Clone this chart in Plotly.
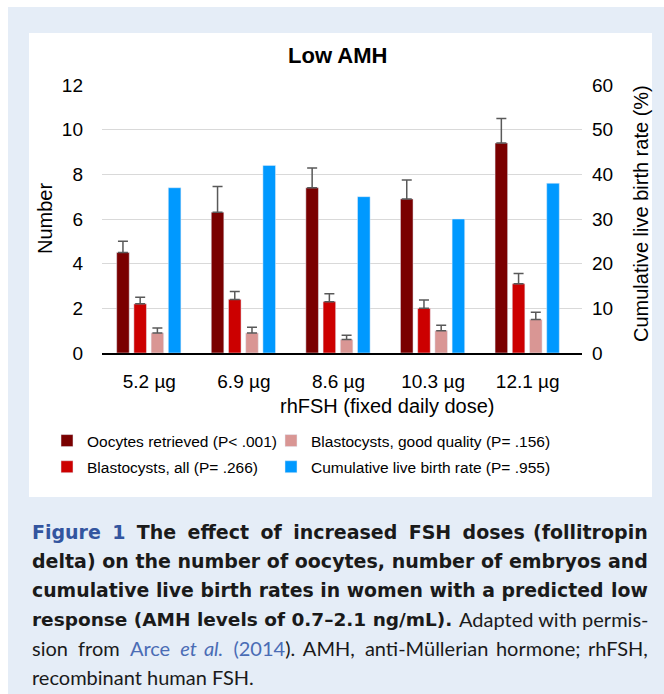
import plotly.graph_objects as go

# ---- data ----
doses = ["5.2 µg", "6.9 µg", "8.6 µg", "10.3 µg", "12.1 µg"]
oocytes = [4.5, 6.3, 7.4, 6.9, 9.4]
oocytes_err = [0.5, 1.15, 0.88, 0.85, 1.1]
blast_all = [2.2, 2.4, 2.3, 2.0, 3.1]
blast_all_err = [0.3, 0.35, 0.35, 0.37, 0.46]
blast_good = [0.9, 0.9, 0.6, 1.0, 1.5]
blast_good_err = [0.22, 0.25, 0.2, 0.24, 0.33]
clbr = [37, 42, 35, 30, 38]

series_names = [
    "Oocytes retrieved (P< .001)",
    "Blastocysts, all (P= .266)",
    "Blastocysts, good quality (P= .156)",
    "Cumulative live birth rate (P= .955)",
]
colors = ["#7a0000", "#cc0000", "#d99694", "#0099ff"]

# ---- geometry helpers (pixel -> paper) ----
W, H = 664, 694
ML, MR, MT, MB = 102, 82, 85, 341
PW, PH = W - ML - MR, H - MT - MB


def px(x):
    return (x - ML) / PW


def py(y):
    return (H - MB - y) / PH


FONT = "Liberation Sans, Arial, sans-serif"
REG = "Lato, 'Open Sans', sans-serif"
BOLD = "'DejaVu Sans', sans-serif"
SP = " \u2005"   # widened word space for justified caption lines
SPT = " \u2009"  # slightly widened word space
bw = 0.133
offs = [-0.345, -0.163, 0.019, 0.201]
err_style = dict(type="data", symmetric=False, arrayminus=[0] * 5,
                 color="#595959", thickness=1.5, width=5)

fig = go.Figure()
fig.add_trace(go.Bar(x=doses, y=oocytes, name=series_names[0], marker_color=colors[0],
                     width=bw, offset=offs[0], legend="legend", legendgroup="a",
                     error_y=dict(array=oocytes_err, **err_style)))
fig.add_trace(go.Bar(x=doses, y=blast_all, name=series_names[1], marker_color=colors[1],
                     width=bw, offset=offs[1], legend="legend", legendgroup="b",
                     error_y=dict(array=blast_all_err, **err_style)))
fig.add_trace(go.Bar(x=doses, y=blast_good, name=series_names[2], marker_color=colors[2],
                     width=bw, offset=offs[2], legend="legend2", legendgroup="c",
                     error_y=dict(array=blast_good_err, **err_style)))
fig.add_trace(go.Bar(x=doses, y=clbr, name=series_names[3], marker_color=colors[3],
                     width=bw, offset=offs[3], legend="legend2", legendgroup="d", yaxis="y2"))

shapes = [
    dict(type="rect", xref="paper", yref="paper", x0=px(8), x1=px(664), y0=py(694), y1=py(7),
         fillcolor="#e5edf7", line_width=0, layer="below"),
    dict(type="rect", xref="paper", yref="paper", x0=px(29), x1=px(652), y0=py(497), y1=py(33),
         fillcolor="white", line_width=0, layer="below"),
]

BLUE = "#33559f"
LBLUE = "#4a6cb5"
BLK = "#1a1a1a"
# caption: (left text, left font, left size, right text, right font, right size)
cap_parts = [
    (f"<b><span style='color:{BLUE}'>Figure{SP}1</span>{SP}The{SP}effect{SP}of{SP}increased{SP}FSH{SP}doses</b>",
     BOLD, 19, "<b>(follitropin</b>", BOLD, 19),
    ("<b>delta) on the number of oocytes, number of embryos</b>", BOLD, 19, "<b>and</b>", BOLD, 19),
    ("<b>cumulative live birth rates in women with a predicted</b>", BOLD, 18.85, "<b>low</b>", BOLD, 18.85),
    ("<b>response (AMH levels of 0.7–2.1 ng/mL).</b>", BOLD, 18.5, "Adapted with permis-", REG, 20),
    (f"sion{SP}from{SP}<span style='color:{LBLUE}'>Arce{SP}<i>et{SPT}al.</i>{SP}(2014</span>).{SPT}AMH,{SP}"
     f"anti-Müllerian{SPT}hormone;", REG, 20, "rhFSH,", REG, 20),
    ("recombinant human FSH.", REG, 20, None, None, None),
]
cap_y = [532, 561, 590, 619, 648, 677]

annotations = [
    dict(text="<b>Low AMH</b>", x=px(337.5), y=py(55), xanchor="center", yanchor="middle",
         font=dict(family=FONT, size=22, color="#000")),
    dict(text="Number", x=px(45), y=py(219), textangle=-90, xanchor="center", yanchor="middle",
         font=dict(family=FONT, size=20, color="#000")),
    dict(text="Cumulative live birth rate (%)", x=px(641), y=py(214), textangle=-90,
         xanchor="center", yanchor="middle", font=dict(family=FONT, size=20, color="#000")),
    dict(text="rhFSH (fixed daily dose)", x=px(387), y=py(406), xanchor="center", yanchor="middle",
         font=dict(family=FONT, size=20, color="#000")),
]
for (lt, lf, ls, rt, rf, rs), yy in zip(cap_parts, cap_y):
    annotations.append(dict(text=lt, x=px(30), y=py(yy), xanchor="left", yanchor="middle",
                            font=dict(family=lf, size=ls, color=BLK)))
    if rt:
        annotations.append(dict(text=rt, x=px(650), y=py(yy), xanchor="right", yanchor="middle",
                                font=dict(family=rf, size=rs, color=BLK)))
for a in annotations:
    a.update(xref="paper", yref="paper", showarrow=False)

leg_common = dict(orientation="v", xanchor="left", yanchor="top", y=py(424),
                  traceorder="grouped", tracegroupgap=3, bgcolor="rgba(0,0,0,0)",
                  font=dict(family=FONT, size=15.5, color="#000"))

fig.update_layout(
    width=W, height=H,
    margin=dict(l=ML, r=MR, t=MT, b=MB),
    paper_bgcolor="white", plot_bgcolor="rgba(0,0,0,0)",
    barmode="overlay",
    showlegend=True,
    legend=dict(x=px(47), **leg_common),
    legend2=dict(x=px(271), **leg_common),
    xaxis=dict(type="category", range=[-0.5, 4.574], showline=True, linecolor="#000",
               linewidth=1.5, ticks="", showgrid=False, ticklabelstandoff=10,
               tickfont=dict(family=FONT, size=19, color="#000")),
    yaxis=dict(range=[0, 12], dtick=2, showgrid=True, gridcolor="#d9d9d9", gridwidth=1,
               zeroline=False, showline=False, ticks="", ticklabelstandoff=18,
               tickfont=dict(family=FONT, size=19, color="#000")),
    yaxis2=dict(range=[0, 60], dtick=10, overlaying="y", side="right", showgrid=False,
                zeroline=False, showline=False, ticks="", ticklabelstandoff=9,
                tickfont=dict(family=FONT, size=19, color="#000")),
    shapes=shapes,
    annotations=annotations,
)

fig.write_html("out.html", config={"displayModeBar": False},
               post_script="document.body.style.margin='0';document.body.style.padding='0';")
